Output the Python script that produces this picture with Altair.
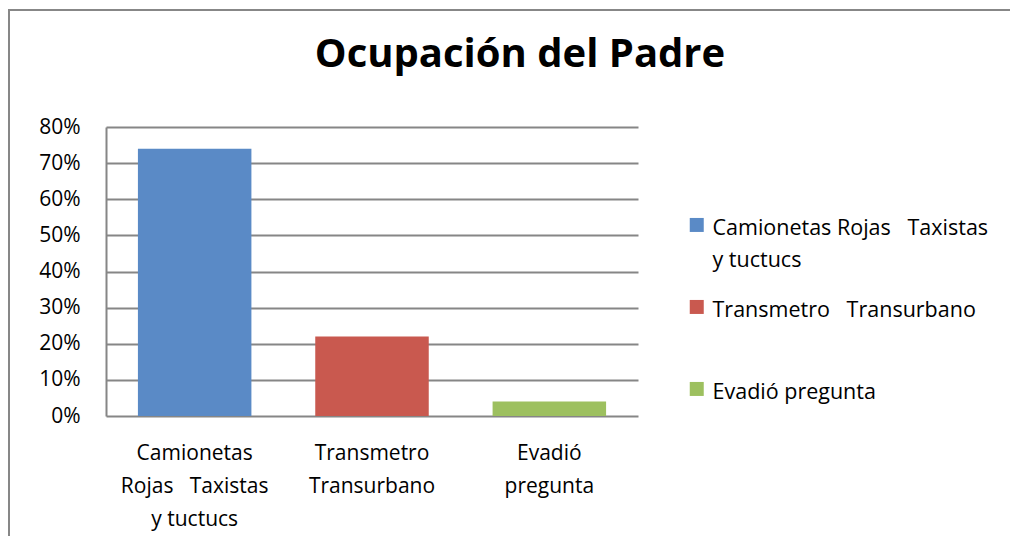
import altair as alt
import pandas as pd

# ---- data ----
categorias = ["Camionetas Rojas   Taxistas y tuctucs", "Transmetro   Transurbano", "Evadió pregunta"]
valores = [0.74, 0.22, 0.04]
etiquetas_eje = ["Camionetas|Rojas \u00a0 Taxistas|y tuctucs", "Transmetro|Transurbano", "Evadió|pregunta"]
etiquetas_leyenda = ["Camionetas Rojas \u00a0 Taxistas|y tuctucs", "Transmetro \u00a0 Transurbano", "Evadió pregunta"]
colores = ["#5A8AC6", "#C9594F", "#9DC05F"]
ticks_y = [0, 0.1, 0.2, 0.3, 0.4, 0.5, 0.6, 0.7, 0.8]

df = pd.DataFrame({
    "categoria": categorias,
    "valor": valores,
    "eje": etiquetas_eje,
    "leyenda": etiquetas_leyenda,
})

FONT = "Open Sans"
GRID = "#868686"

bars = alt.Chart(df).mark_bar().encode(
    x=alt.X("eje:N", sort=None, title=None,
            scale=alt.Scale(paddingInner=0.36, paddingOuter=0.18),
            axis=alt.Axis(labelExpr="split(datum.label, '|')", labelAngle=0,
                          labelFont=FONT, labelFontSize=21, labelColor="#000",
                          labelLineHeight=33, labelPadding=26, ticks=False,
                          domain=False, labelBaseline="top")),
    y=alt.Y("valor:Q", title=None,
            scale=alt.Scale(domain=[0, 0.8], nice=False),
            axis=alt.Axis(values=ticks_y, format=".0%", labelFont=FONT,
                          labelFontSize=21, labelColor="#000", ticks=False,
                          labelPadding=26, domainColor=GRID, domainWidth=2,
                          gridColor=GRID, gridWidth=2)),
    color=alt.Color("leyenda:N", sort=None,
                    scale=alt.Scale(domain=etiquetas_leyenda, range=colores),
                    legend=alt.Legend(title=None, orient="none", legendX=580, legendY=97,
                                      labelExpr="split(datum.label, '|')",
                                      labelFont=FONT, labelFontSize=21.5, labelColor="#000",
                                      labelLimit=500, labelBaseline="alphabetic",
                                      labelOffset=5, symbolType="M-1,-2.4H1V-0.4H-1Z",
                                      symbolSize=196, symbolStrokeWidth=0,
                                      gridAlign="all", rowPadding=27)),
)

frame = alt.Chart(pd.DataFrame({"k": [0]})).mark_rect(
    fillOpacity=0, stroke="#878787", strokeWidth=2
).encode(x=alt.value(-97), y=alt.value(-117), x2=alt.value(1000), y2=alt.value(600))

chart = alt.layer(frame, bars).properties(
    width=532, height=289,
    autosize=alt.AutoSizeParams(type="none"),
    padding={"left": 98, "top": 119, "right": 372, "bottom": 120},
    title=alt.TitleParams("Ocupación del Padre", font=FONT, fontSize=40,
                          fontWeight="bold", color="#000", anchor="middle",
                          frame="group", dx=148, offset=-66),
).configure(style={"guide-label": {"lineHeight": 32}}).configure_view(strokeWidth=0)

chart.save("out.html", embed_options={"renderer": "svg", "actions": False})
